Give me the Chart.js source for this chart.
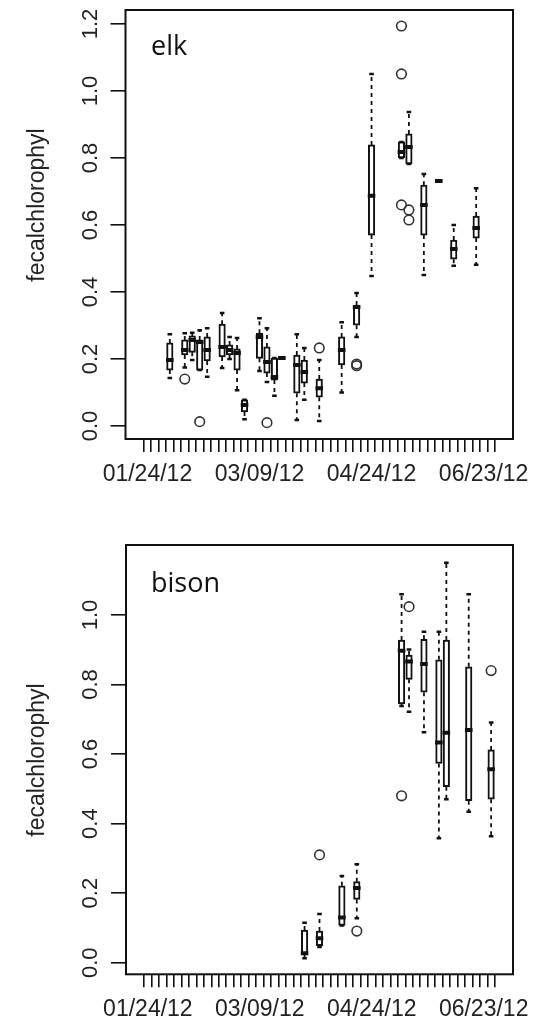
<!DOCTYPE html>
<html>
<head>
<meta charset="utf-8">
<script src="https://cdn.jsdelivr.net/npm/chart.js@4.4.1/dist/chart.umd.min.js"></script>
<style>
    html, body { margin: 0; padding: 0; background: #fff; }
    .panel { position: absolute; left: 0; width: 536px; }
    #elkPanel { top: 0; height: 515px; }
    #bisonPanel { top: 515px; height: 514px; }
</style>
</head>
<body>
<div class="panel" id="elkPanel"><canvas id="elkChart"></canvas></div>
<div class="panel" id="bisonPanel"><canvas id="bisonChart"></canvas></div>
<script>
// x axis: sampling dates are factor levels 1..47, only a few are labelled
var levelCount = 47;
var xLabelAt = [1, 16, 31, 46];
var xLabelText = ['01/24/12', '03/09/12', '04/24/12', '06/23/12'];

// elk
var elkPos = [4, 6, 7, 8, 9, 11, 12, 13, 14, 16, 17, 18, 19, 21, 22, 24, 27, 29, 31, 35, 36, 38, 40, 42, 45];
var elkLow = [0.143, 0.175, 0.197, 0.167, 0.147, 0.173, 0.200, 0.107, 0.020, 0.164, 0.131, 0.090, 0.203, 0.018, 0.078, 0.015, 0.100, 0.266, 0.448, 0.800, 0.782, 0.451, 0.731, 0.478, 0.481];
var elkQ1 = [0.167, 0.212, 0.220, 0.167, 0.194, 0.206, 0.212, 0.167, 0.042, 0.202, 0.158, 0.137, 0.203, 0.098, 0.128, 0.086, 0.182, 0.301, 0.570, 0.800, 0.782, 0.570, 0.731, 0.498, 0.561];
var elkMed = [0.197, 0.227, 0.257, 0.251, 0.227, 0.236, 0.227, 0.218, 0.063, 0.266, 0.191, 0.146, 0.203, 0.182, 0.161, 0.113, 0.227, 0.355, 0.687, 0.818, 0.833, 0.660, 0.731, 0.528, 0.591];
var elkQ3 = [0.248, 0.257, 0.269, 0.257, 0.266, 0.304, 0.242, 0.230, 0.078, 0.277, 0.236, 0.203, 0.203, 0.212, 0.197, 0.140, 0.266, 0.361, 0.839, 0.848, 0.872, 0.719, 0.731, 0.555, 0.627];
var elkHigh = [0.274, 0.277, 0.278, 0.286, 0.292, 0.337, 0.266, 0.263, 0.078, 0.322, 0.292, 0.203, 0.203, 0.274, 0.233, 0.197, 0.310, 0.397, 1.051, 0.848, 0.937, 0.752, 0.731, 0.600, 0.710];
var elkOutPos = [6, 8, 17, 24, 29, 29, 35, 35, 35, 36, 36];
var elkOutVal = [0.140, 0.013, 0.010, 0.233, 0.180, 0.185, 1.194, 1.051, 0.660, 0.645, 0.615];
var elkYTicks = [0, 0.2, 0.4, 0.6, 0.8, 1.0, 1.2];

// bison
var bisonPos = [22, 24, 27, 29, 35, 36, 38, 40, 41, 44, 47];
var bisonLow = [0.013, 0.045, 0.107, 0.128, 0.738, 0.722, 0.663, 0.358, 0.470, 0.434, 0.364];
var bisonQ1 = [0.022, 0.049, 0.107, 0.182, 0.744, 0.815, 0.778, 0.573, 0.506, 0.466, 0.470];
var bisonMed = [0.027, 0.070, 0.130, 0.215, 0.897, 0.866, 0.859, 0.633, 0.661, 0.669, 0.556];
var bisonQ3 = [0.094, 0.091, 0.221, 0.233, 0.928, 0.885, 0.930, 0.871, 0.928, 0.851, 0.612];
var bisonHigh = [0.115, 0.140, 0.249, 0.283, 1.060, 0.901, 0.952, 0.952, 1.150, 1.060, 0.691];
var bisonOutPos = [24, 29, 35, 36, 47];
var bisonOutVal = [0.310, 0.091, 0.480, 1.024, 0.840];
var bisonYTicks = [0, 0.2, 0.4, 0.6, 0.8, 1.0];

var ink = '#111';
var axisFont = 'Liberation Sans, Arial, sans-serif';

function segments(pos, from, to) {
    var pts = [];
    pos.forEach(function (p, k) {
        pts.push({ x: p, y: from[k] }, { x: p, y: to[k] }, { x: p, y: null });
    });
    return pts;
}

function points(pos, vals) {
    return pos.map(function (p, k) { return { x: p, y: vals[k] }; });
}

// frame, rotated y labels, axis title and panel name
var panelDecor = {
    id: 'panelDecor',
    afterDraw: function (chart, args, opts) {
        var ctx = chart.ctx;
        var area = chart.chartArea;
        var yScale = chart.scales.y;
        ctx.save();
        ctx.strokeStyle = ink;
        ctx.lineWidth = 2;
        ctx.strokeRect(area.left, area.top, area.right - area.left, area.bottom - area.top);

        ctx.fillStyle = '#222';
        ctx.font = '22px ' + axisFont;
        ctx.textAlign = 'center';
        ctx.textBaseline = 'middle';
        opts.yTicks.forEach(function (v) {
            ctx.save();
            ctx.translate(91, yScale.getPixelForValue(v));
            ctx.rotate(-Math.PI / 2);
            ctx.fillText(v.toFixed(1), 0, 0);
            ctx.restore();
        });

        ctx.font = '23px ' + axisFont;
        ctx.save();
        ctx.translate(38, opts.titleY);
        ctx.rotate(-Math.PI / 2);
        ctx.fillText('fecalchlorophyl', 0, 0);
        ctx.restore();

        ctx.fillStyle = ink;
        ctx.font = '27px "Open Sans", sans-serif';
        ctx.textAlign = 'left';
        ctx.textBaseline = 'alphabetic';
        ctx.fillText(opts.name, 151, area.top + opts.nameDy);
        ctx.restore();
    }
};

function makePanel(canvasId, d) {
    var ctx = document.getElementById(canvasId).getContext('2d');
    return new Chart(ctx, {
        data: {
            datasets: [
                {
                    type: 'scatter',
                    data: points(d.pos, d.med),
                    pointStyle: 'line',
                    pointRadius: 3.8,
                    borderColor: ink,
                    borderWidth: 4,
                    order: 0
                },
                {
                    type: 'scatter',
                    data: points(d.outPos, d.outVal),
                    pointStyle: 'circle',
                    pointRadius: 4.8,
                    borderColor: '#333',
                    borderWidth: 1.6,
                    backgroundColor: 'rgba(0,0,0,0)',
                    order: 0
                },
                {
                    type: 'bar',
                    data: d.pos.map(function (p, k) { return { x: p, y: [d.q1[k], d.q3[k]] }; }),
                    backgroundColor: '#fff',
                    borderColor: ink,
                    borderWidth: 2,
                    borderSkipped: false,
                    barThickness: 6.5,
                    order: 1
                },
                {
                    type: 'line',
                    data: segments(d.pos, d.q3, d.high).concat(segments(d.pos, d.q1, d.low)),
                    borderColor: ink,
                    borderWidth: 1.8,
                    borderDash: [4, 4],
                    pointRadius: 0,
                    spanGaps: false,
                    fill: false,
                    order: 2
                },
                {
                    type: 'scatter',
                    data: points(d.pos, d.high).concat(points(d.pos, d.low)),
                    pointStyle: 'line',
                    pointRadius: 2.3,
                    borderColor: ink,
                    borderWidth: 2.5,
                    order: 2
                }
            ]
        },
        options: {
            responsive: true,
            maintainAspectRatio: false,
            animation: false,
            layout: { padding: { top: d.padTop, right: 23, left: 0, bottom: 0 } },
            plugins: {
                legend: { display: false },
                tooltip: { enabled: false },
                panelDecor: { yTicks: d.yTicks, name: d.name, titleY: d.titleY, nameDy: d.nameDy }
            },
            scales: {
                x: {
                    type: 'linear',
                    min: 0.5 - 0.04 * levelCount,
                    max: levelCount + 0.5 + 0.04 * levelCount,
                    afterBuildTicks: function (scale) {
                        var t = [];
                        for (var i = 1; i <= levelCount; i++) t.push({ value: i });
                        scale.ticks = t;
                    },
                    afterFit: function (scale) { scale.height = d.xAxisHeight; },
                    border: { display: false },
                    grid: { drawOnChartArea: false, tickLength: 13, color: ink, lineWidth: 1.6 },
                    ticks: {
                        autoSkip: false,
                        maxRotation: 0,
                        minRotation: 0,
                        padding: 9,
                        color: '#222',
                        font: { family: axisFont, size: 23 },
                        callback: function (value) {
                            var k = xLabelAt.indexOf(value);
                            return k >= 0 ? xLabelText[k] : '';
                        }
                    }
                },
                y: {
                    type: 'linear',
                    min: d.yMin,
                    max: d.yMax,
                    afterBuildTicks: function (scale) {
                        scale.ticks = d.yTicks.map(function (v) { return { value: v }; });
                    },
                    afterFit: function (scale) { scale.width = d.yAxisWidth; },
                    border: { display: false },
                    grid: { drawOnChartArea: false, tickLength: 15, color: ink, lineWidth: 1.6 },
                    ticks: { display: false }
                }
            }
        },
        plugins: [panelDecor]
    });
}

makePanel('elkChart', {
    name: 'elk', pos: elkPos, low: elkLow, q1: elkQ1, med: elkMed, q3: elkQ3, high: elkHigh,
    outPos: elkOutPos, outVal: elkOutVal, yTicks: elkYTicks,
    yMin: -0.0388, yMax: 1.2418, padTop: 10, xAxisHeight: 76, yAxisWidth: 125.5,
    titleY: 205, nameDy: 45
});

makePanel('bisonChart', {
    name: 'bison', pos: bisonPos, low: bisonLow, q1: bisonQ1, med: bisonMed, q3: bisonQ3, high: bisonHigh,
    outPos: bisonOutPos, outVal: bisonOutVal, yTicks: bisonYTicks,
    yMin: -0.0334, yMax: 1.2013, padTop: 30, xAxisHeight: 54.7, yAxisWidth: 126,
    titleY: 245, nameDy: 47
});
</script>
</body>
</html>
